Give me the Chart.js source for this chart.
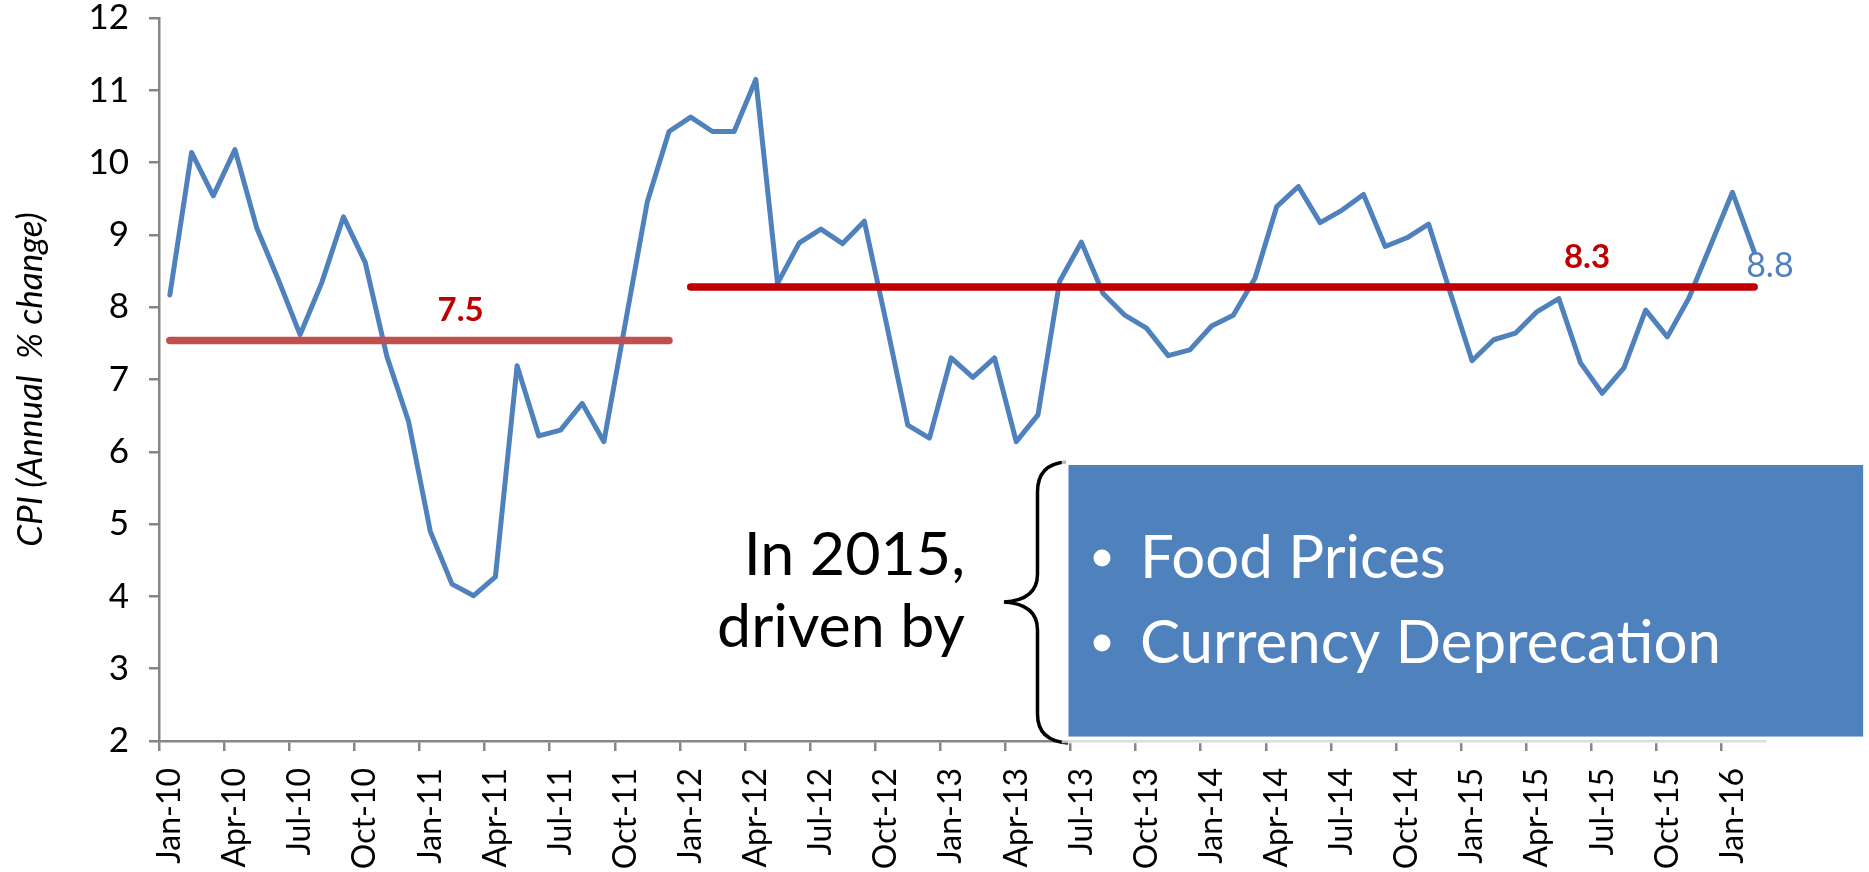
<!DOCTYPE html>
<html><head><meta charset="utf-8">
<script src="https://cdn.jsdelivr.net/npm/chart.js@4.4.0/dist/chart.umd.min.js"></script>
<style>html,body{margin:0;padding:0;background:#fff;overflow:hidden}#wrap{width:1869px;height:872px;position:relative}</style>
</head><body><div id="wrap"><canvas id="c" width="1869" height="872"></canvas></div>
<script>
// ---------- data ----------
const categories = [
 'Jan-10','Feb-10','Mar-10','Apr-10','May-10','Jun-10','Jul-10','Aug-10','Sep-10','Oct-10','Nov-10','Dec-10',
 'Jan-11','Feb-11','Mar-11','Apr-11','May-11','Jun-11','Jul-11','Aug-11','Sep-11','Oct-11','Nov-11','Dec-11',
 'Jan-12','Feb-12','Mar-12','Apr-12','May-12','Jun-12','Jul-12','Aug-12','Sep-12','Oct-12','Nov-12','Dec-12',
 'Jan-13','Feb-13','Mar-13','Apr-13','May-13','Jun-13','Jul-13','Aug-13','Sep-13','Oct-13','Nov-13','Dec-13',
 'Jan-14','Feb-14','Mar-14','Apr-14','May-14','Jun-14','Jul-14','Aug-14','Sep-14','Oct-14','Nov-14','Dec-14',
 'Jan-15','Feb-15','Mar-15','Apr-15','May-15','Jun-15','Jul-15','Aug-15','Sep-15','Oct-15','Nov-15','Dec-15',
 'Jan-16','Feb-16'
];
const cpiValues = [
 8.17,10.14,9.54,10.18,9.10,8.38,7.62,8.34,9.25,8.62,7.32,6.42,
 4.90,4.17,4.01,4.27,7.19,6.22,6.30,6.67,6.14,7.80,9.46,10.43,
 10.63,10.43,10.43,11.15,8.33,8.89,9.08,8.88,9.19,7.80,6.37,6.19,
 7.30,7.03,7.30,6.14,6.51,8.36,8.90,8.19,7.89,7.71,7.33,7.41,
 7.74,7.89,8.40,9.39,9.67,9.17,9.34,9.56,8.84,8.96,9.15,8.20,
 7.26,7.55,7.64,7.94,8.12,7.23,6.81,7.16,7.96,7.59,8.13,8.86,
 9.59,8.77
];
const yTickValues = [2,3,4,5,6,7,8,9,10,11,12];
const periodAverages = [7.54, 8.28];
const periodFirst = [0, 24];
const periodLast = [23, 73];
const averageLabels = ['7.5', '8.3'];
const latestLabel = '8.8';
const axisTitle = 'CPI (Annual  % change)';
const noteLeft = ['In 2015,', 'driven by'];
const noteBullets = ['Food Prices', 'Currency Deprecation'];

// ---------- styles ----------
const BLUE = '#4F81BD';
const avgColors = ['#C0504D', '#C00000'];
const avgLabelColors = ['#C00000', '#C00000'];
const avgLabelIndex = [13.4, 65.3];
const FONT = 'Lato';
const AXIS = '#868686';

const avgData = periodAverages.map((v, k) =>
  categories.map((_, i) => (i >= periodFirst[k] && i <= periodLast[k]) ? v : null));

const datasets = [];
avgData.forEach((d, k) => datasets.push({
  data: d, borderColor: avgColors[k], borderWidth: 7.5, borderCapStyle: 'round',
  pointRadius: 0, tension: 0, spanGaps: false, order: 0
}));
datasets.push({
  data: cpiValues, borderColor: BLUE, borderWidth: 5, borderJoinStyle: 'round',
  borderCapStyle: 'round', pointRadius: 0, tension: 0, order: 1
});

function fitSize(ctx, text, target, weight, style) {
  ctx.font = `${style||'normal'} ${weight||'normal'} 100px ${FONT}`;
  const w = ctx.measureText(text).width;
  return 100 * target / w;
}

const notes = {
  id: 'notes',
  afterDraw(chart) {
    const ctx = chart.ctx;
    const xs = chart.scales.x, ys = chart.scales.y;
    ctx.save();
    // average labels
    periodAverages.forEach((v, k) => {
      ctx.font = `bold 33px ${FONT}`;
      ctx.fillStyle = avgLabelColors[k];
      ctx.textAlign = 'center';
      ctx.textBaseline = 'alphabetic';
      ctx.fillText(averageLabels[k], xs.getPixelForValue(avgLabelIndex[k]), ys.getPixelForValue(v) - 19);
    });
    // latest value label
    const li = cpiValues.length - 1;
    ctx.font = `34px ${FONT}`;
    ctx.fillStyle = BLUE;
    ctx.textAlign = 'left';
    ctx.fillText(latestLabel, xs.getPixelForValue(li) - 8, ys.getPixelForValue(cpiValues[li]) + 25);

    // left note text
    const s1 = fitSize(ctx, noteLeft[1], 248);
    ctx.font = `${s1}px ${FONT}`;
    ctx.fillStyle = '#000';
    ctx.textAlign = 'right';
    ctx.fillText(noteLeft[0], 965, 575);
    ctx.fillText(noteLeft[1], 965, 647);

    // brace
    ctx.strokeStyle = '#000';
    ctx.lineWidth = 3.5;
    ctx.lineCap = 'butt';
    ctx.beginPath();
    ctx.moveTo(1066, 462);
    ctx.quadraticCurveTo(1037.5, 464, 1037.5, 492);
    ctx.lineTo(1037.5, 574);
    ctx.quadraticCurveTo(1037.5, 600, 1004, 602);
    ctx.quadraticCurveTo(1037.5, 604, 1037.5, 630);
    ctx.lineTo(1037.5, 714);
    ctx.quadraticCurveTo(1037.5, 741, 1068, 743);
    ctx.stroke();

    // box
    const bx = 1068.3, by = 465, bw = 1863.3 - 1068.3, bh = 736.7 - 465;
    ctx.fillStyle = BLUE;
    ctx.fillRect(bx, by, bw, bh);
    ctx.strokeStyle = 'rgba(255,255,255,0.72)';
    ctx.lineWidth = 6.6;
    ctx.strokeRect(bx - 3.3, by - 3.3, bw + 6.6, bh + 6.6);

    // bullets
    const s2 = fitSize(ctx, noteBullets[1], 581);
    ctx.font = `${s2}px ${FONT}`;
    ctx.fillStyle = '#fff';
    ctx.textAlign = 'left';
    const bl = [578, 663];
    noteBullets.forEach((t, k) => {
      ctx.beginPath();
      ctx.arc(1102, bl[k] - 20, 8.5, 0, Math.PI * 2);
      ctx.fill();
      ctx.fillText(t, 1140, bl[k]);
    });
    ctx.restore();
  }
};

new Chart(document.getElementById('c'), {
  type: 'line',
  data: { labels: categories, datasets },
  options: {
    responsive: false, animation: false, devicePixelRatio: 1,
    layout: { padding: { top: 0, right: 104, left: 0, bottom: 0 } },
    plugins: { legend: { display: false }, tooltip: { enabled: false } },
    scales: {
      x: {
        type: 'category', offset: true,
        grid: { offset: true, drawOnChartArea: false, tickLength: 10, lineWidth: 2.5,
                color: c => (c.index % 3 === 0 ? AXIS : 'rgba(0,0,0,0)') },
        border: { color: AXIS, width: 2.5 },
        ticks: { autoSkip: false, maxRotation: 90, minRotation: 90, padding: 17,
                 color: '#000', font: { family: FONT, size: 32 },
                 callback: (v, i) => (i % 3 === 0 ? categories[i] : '') },
        afterFit: s => { s.height = 131; }
      },
      y: {
        min: 2, max: 12,
        afterBuildTicks: s => { s.ticks = yTickValues.map(v => ({ value: v })); },
        grid: { drawOnChartArea: false, tickLength: 10, lineWidth: 2.5, color: AXIS },
        border: { color: AXIS, width: 2.5 },
        ticks: { padding: 20, color: '#000', font: { family: FONT, size: 35 } },
        title: { display: true, text: axisTitle, color: '#000', padding: { top: 10, bottom: 0 },
                 font: { family: FONT, size: 35, style: 'italic' } },
        afterFit: s => { s.width = 159; s.paddingTop = 18; s.paddingBottom = 0; }
      }
    }
  },
  plugins: [notes]
});
</script></body></html>
